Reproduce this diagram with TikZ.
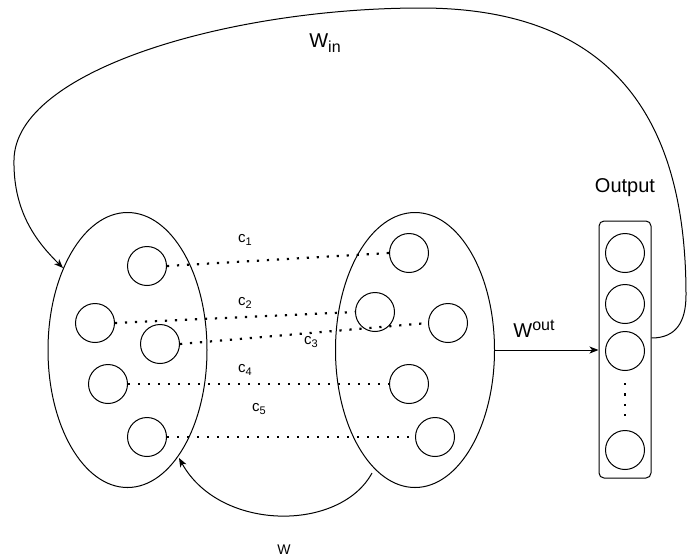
\documentclass[tikz,border=0pt]{standalone}
\usepackage{fontspec}
\setmainfont{Liberation Sans}
\usetikzlibrary{shapes.geometric,arrows.meta}
\newcommand{\fs}[1]{\fontsize{#1}{#1}\selectfont}
\begin{document}
\begin{tikzpicture}[x=1pt,y=-1pt,
  line width=1pt,
  unit/.style={draw,circle,minimum size=39pt,inner sep=0pt},
  pool/.style={draw,ellipse,minimum width=159pt,minimum height=275pt,inner sep=0pt},
  link/.style={line width=2.2pt,dash pattern=on 2.2pt off 7.8pt},
  tip/.style={-{Stealth[length=9pt,width=7pt,inset=2.5pt]}},
  clabel/.style={inner sep=0pt,font=\fs{15}}
]
\useasboundingbox (0,0) rectangle (688,558);

% reservoir pools
\node[pool] (left)  at (127.5,350) {};
\node[pool] (right) at (415,350) {};

% units of the left pool
\node[unit] (l1) at (147,266) {};
\node[unit] (l2) at (95,323) {};
\node[unit] (l3) at (160,344) {};
\node[unit] (l4) at (108,384) {};
\node[unit] (l5) at (147,437) {};

% units of the right pool
\node[unit] (r1) at (409,253) {};
\node[unit] (r2) at (375,312) {};
\node[unit] (r3) at (448,323) {};
\node[unit] (r4) at (409,384) {};
\node[unit] (r5) at (435,437) {};

% dotted couplings
\draw[link] (l1.east) -- (r1.west);
\draw[link] (l2.east) -- (r2.west);
\draw[link] (l3.east) -- (r3.west);
\draw[link] (l4.east) -- (r4.west);
\draw[link] (l5.east) -- (r5.west);

\node[clabel] (c1) at (245,240) {c\raisebox{-3pt}{\fs{11}1}};
\node[clabel] (c2) at (245,303) {c\raisebox{-3pt}{\fs{11}2}};
\node[clabel] (c3) at (311,342) {c\raisebox{-3pt}{\fs{11}3}};
\node[clabel] (c4) at (245,370) {c\raisebox{-3pt}{\fs{11}4}};
\node[clabel] (c5) at (259,409) {c\raisebox{-3pt}{\fs{11}5}};

% output layer
\node[draw,rounded corners=5pt,minimum width=52pt,minimum height=257pt,inner sep=0pt] (out) at (625,349.5) {};
\node[unit] (o1) at (625,253) {};
\node[unit] (o2) at (625,304) {};
\node[unit] (o3) at (625,351) {};
\node[unit] (o4) at (625,450) {};
\coordinate (dtop) at (625,383);
\coordinate (dbot) at (625,418);
\draw[link,dash pattern=on 2.2pt off 8.2pt] (dtop) -- (dbot);
\node[font=\fs{20}] (outlabel) at (625,188) {Output};

% readout
\draw[tip] (right.east) -- (right.east -| out.west);
\node[font=\fs{20},inner sep=0pt] (wout) at (534,329) {W\raisebox{7pt}{\fs{16}out}};

% feedback from the output to the left pool
\coordinate (fbstart) at (out.east |- 0,338);
\coordinate (fbend) at (63,268);
\draw[tip] (fbstart) .. controls (676,338) and (686,322) .. (686,295)
  .. controls (686,140) and (630,8) .. (421,8)
  .. controls (230,8) and (15,70) .. (14,160)
  .. controls (13,215) and (40,245) .. (fbend);
\node[font=\fs{20},inner sep=0pt] (win) at (325,43) {W\raisebox{-5pt}{\fs{16}in}};

% recurrent connection between the pools
\coordinate (wstart) at (372,473);
\coordinate (wend) at (179,458);
\draw[tip] (wstart) .. controls (340,532) and (220,532) .. (wend);
\node[font=\fs{14},inner sep=0pt] (wlabel) at (284,550) {W};
\end{tikzpicture}
\end{document}
